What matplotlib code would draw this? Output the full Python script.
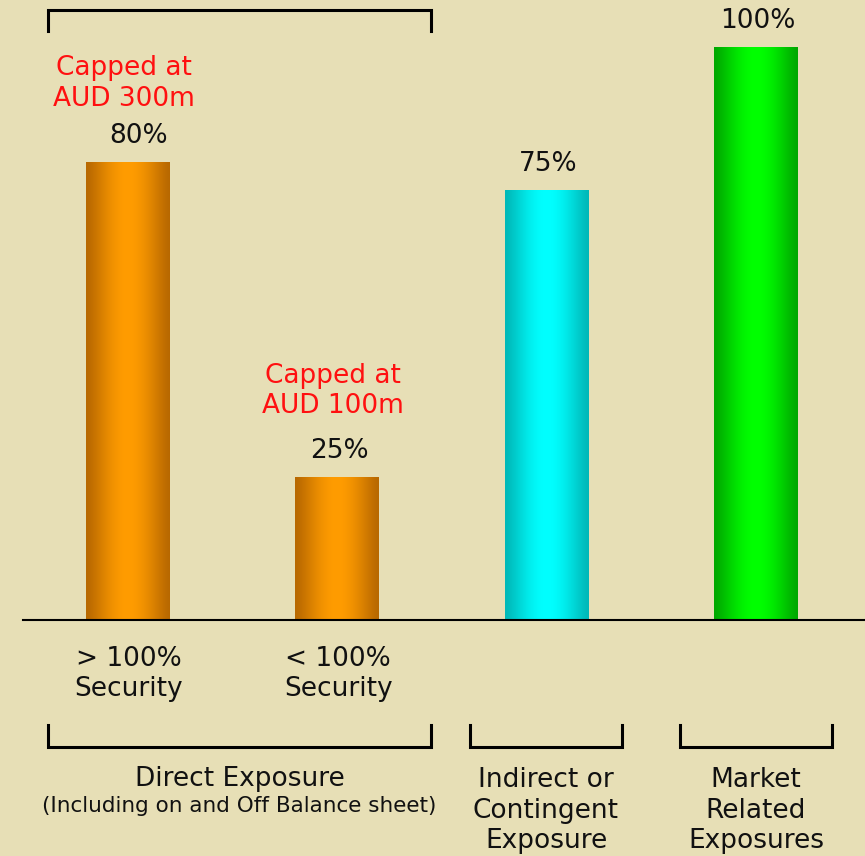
import numpy as np
import matplotlib.pyplot as plt
from matplotlib.colors import to_rgb

# data
bar_labels = ["> 100%\nSecurity", "< 100%\nSecurity", "", ""]
values = [80, 25, 75, 100]
value_text = ["80%", "25%", "75%", "100%"]
cap_text = ["Capped at\nAUD 300m", "Capped at\nAUD 100m", "", ""]
group_names = ["Direct Exposure", "Indirect or\nContingent\nExposure", "Market\nRelated\nExposures"]
group_note = "(Including on and Off Balance sheet)"

edge_col = ["#B86800", "#B86800", "#00B8B8", "#00A800"]
mid_col = ["#FF9C00", "#FF9C00", "#00FFFF", "#00FF00"]
bg = "#E7DFB6"

W, H = 865, 856
base = 620          # baseline, px from top
scale = 5.73        # px per percent
step = 209.33       # px between bars
x0 = 128            # px of first bar centre
lsp = 31.5          # px between text lines

def ydat(p):
    return (base - p) / scale

def xdat(p):
    return (p - x0) / step

fig = plt.figure(figsize=(W / 100, H / 100), dpi=100, facecolor=bg)
ax = fig.add_axes([0, 0, 1, 1])
ax.set_facecolor(bg)
ax.axis("off")

xs = np.arange(len(values))
width = 84 / step
bars = ax.bar(xs, values, width=width, color="none", edgecolor="none")

# cylinder-like shading across each bar
t = np.linspace(0, 1, 200)
prof = np.sin(np.pi * t) ** 1.3
for b, e, m in zip(bars, edge_col, mid_col):
    e, m = np.array(to_rgb(e)), np.array(to_rgb(m))
    img = e[None, :] + (m - e)[None, :] * prof[:, None]
    im = ax.imshow(img[None, :, :], aspect="auto", interpolation="bilinear",
                   extent=[b.get_x(), b.get_x() + b.get_width(), 0, b.get_height()])
    im.set_clip_path(b)

ax.set_xlim(xdat(0), xdat(W))
ax.set_ylim(ydat(H), ydat(0))

ax.plot([xdat(23), xdat(W)], [0, 0], color="black", lw=1.5)

fs = 19
ls = 1.22
dx = [11, 2, 2, 2]
cap_dy = [78, 86, 0, 0]
for i, v in enumerate(values):
    top = base - v * scale
    ax.text(xs[i] + dx[i] / step, ydat(top - 26), value_text[i], ha="center", va="center",
            fontsize=fs, color="#111111")
    if cap_text[i]:
        ax.text(xs[i] - 4 / step, ydat(top - cap_dy[i]), cap_text[i], ha="center", va="center",
                fontsize=fs, color="#FF1010", linespacing=ls)
    if bar_labels[i]:
        ax.text(xs[i] + 1 / step, ydat(674), bar_labels[i], ha="center", va="center",
                fontsize=fs, color="#111111", linespacing=ls)

# brackets
lw = 2.2
top_l, top_r = xdat(48), xdat(431)
ax.plot([top_l, top_l, top_r, top_r], [ydat(31), ydat(10), ydat(10), ydat(31)],
        color="black", lw=lw, solid_joinstyle="miter")

pads = [(xdat(48), xdat(431)), (xdat(470), xdat(622)), (xdat(680), xdat(832))]
for (l, r), name in zip(pads, group_names):
    ax.plot([l, l, r, r], [ydat(725), ydat(747), ydat(747), ydat(725)],
            color="black", lw=lw, solid_joinstyle="miter")
    n = name.count("\n")
    ax.text((l + r) / 2, ydat(779 + n * lsp / 2), name, ha="center", va="center",
            fontsize=fs, color="#111111", linespacing=ls)

l, r = pads[0]
ax.text((l + r) / 2, ydat(806), group_note, ha="center", va="center",
        fontsize=15.5, color="#111111")

fig.savefig("out.png", dpi=100, facecolor=bg)
